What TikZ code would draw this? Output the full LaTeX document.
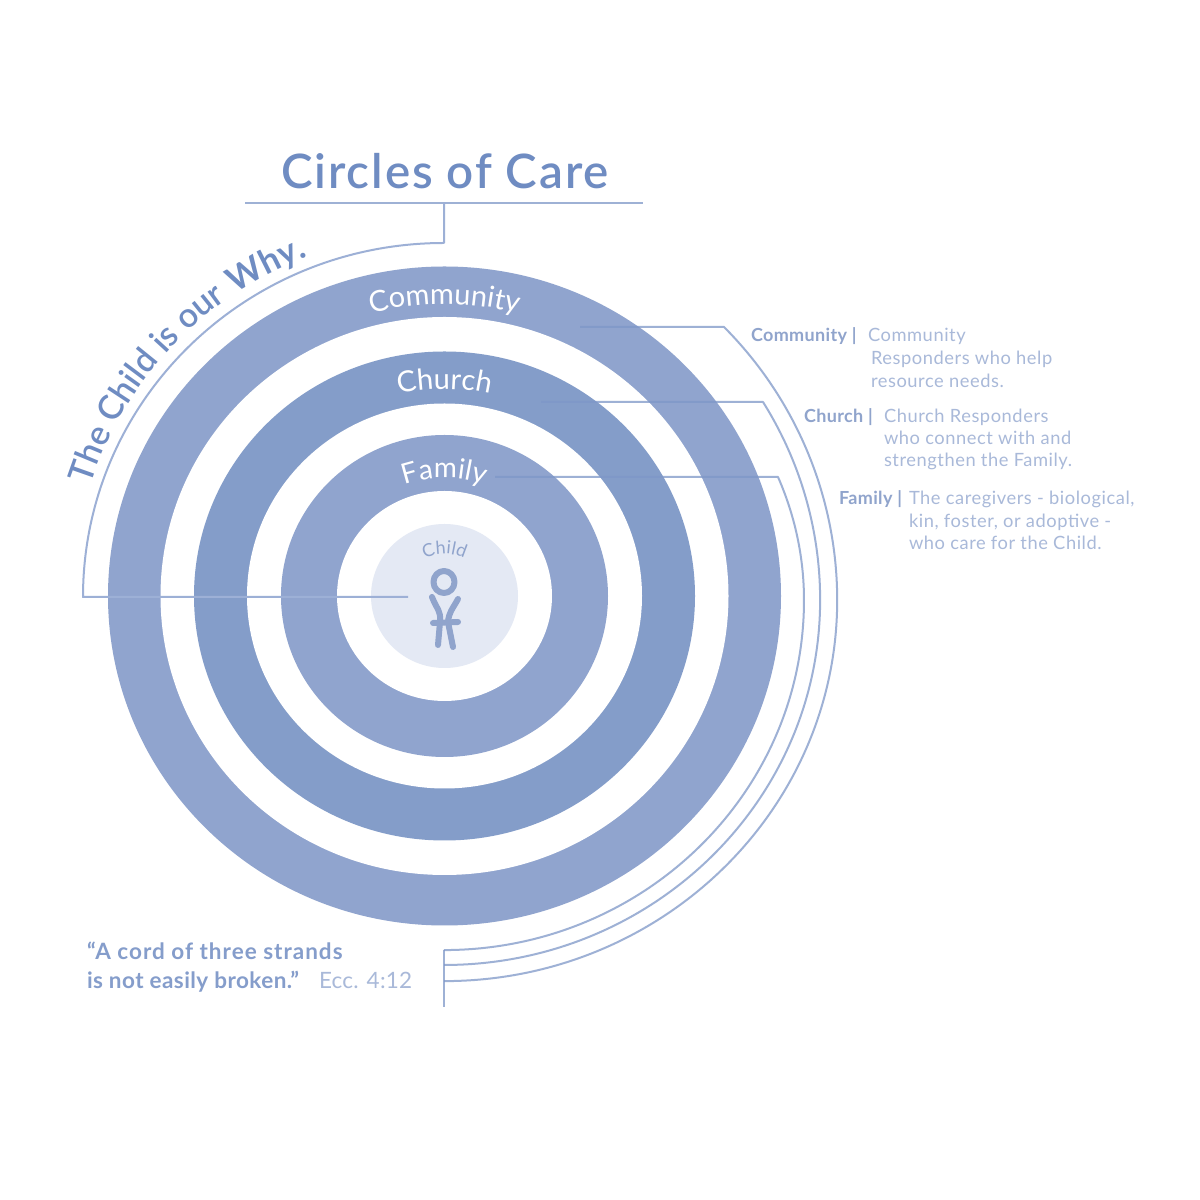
\documentclass[tikz,border=0pt]{standalone}
\usepackage{fontspec}
\setmainfont{Lato}
\newfontfamily\semif{Lato Semibold}
\newfontfamily\boldf{Lato Bold}
\newfontfamily\titlef[LetterSpace=4]{Lato Semibold}
\newfontfamily\keyf[LetterSpace=2]{Lato Bold}
\newfontfamily\quotef[LetterSpace=2]{Lato Bold}
\newfontfamily\quotefw[LetterSpace=4.5]{Lato Bold}
\newfontfamily\plainf[LetterSpace=3]{Lato}
\newfontfamily\eccf[LetterSpace=1]{Lato}
\newfontfamily\ringf{Lato}
\usetikzlibrary{decorations.text}
\definecolor{ringA}{HTML}{90A4CE}
\definecolor{ringB}{HTML}{849DC9}
\definecolor{disc}{HTML}{E4E9F4}
\definecolor{ink}{HTML}{7E97C8}
\definecolor{softwire}{HTML}{9DB0D6}
\definecolor{titleink}{HTML}{6F8CC2}
\definecolor{boldink}{HTML}{90A4CC}
\definecolor{softink}{HTML}{A9B9D9}
\newcommand{\fs}[1]{\fontsize{#1}{#1}\selectfont}
\tikzset{
  wire/.style={draw=ink,draw opacity=.75,line width=2pt,line join=round},
  txt/.style={anchor=base west,inner sep=0pt,outer sep=0pt},
  keyt/.style={txt,text=boldink,font=\keyf\fs{18}},
  desc/.style={txt,text=softink,font=\plainf\fs{18.3}},
  quote/.style={txt,text=titleink!85,font=\quotef\fs{22.5}},
  figure stroke/.style={draw=boldink,line width=6pt,line cap=round,line join=round},
}
\begin{document}
\begin{tikzpicture}[x=1pt,y=1pt]
\path[fill=white,use as bounding box] (0,0) rectangle (1200,1200);
\coordinate (c) at (444.5,604);
% rings
\fill[ringA] (c) ellipse [x radius=336.5,y radius=329.5];
\fill[white] (c) ellipse [x radius=284,y radius=279];
\fill[ringB] (c) ellipse [x radius=250.5,y radius=244.5];
\fill[white] (c) ellipse [x radius=197.5,y radius=192.5];
\fill[ringA] (c) ellipse [x radius=163.5,y radius=161];
\fill[white] (c) ellipse [x radius=107.5,y radius=105];
\fill[disc] (c) ellipse [x radius=73.5,y radius=72];
% title
\node[txt,anchor=base,text=titleink,font=\titlef\fs{47.5}] (title) at (445,1011) {Circles of Care};
\coordinate (ruleL) at (245,997);
\coordinate (ruleR) at (643,997);
\coordinate (ruleM) at (444,997);
\draw[wire] (ruleL) -- (ruleR);
% left connector
\coordinate (childEnd) at (408,603);
\coordinate (leftCorner) at (83,603);
\draw[wire,draw=softwire,draw opacity=1] (childEnd) -- (leftCorner) arc[start angle=180,end angle=90,x radius=361,y radius=354] -- (ruleM);
% right connectors
\coordinate (comS) at (580,873);
\coordinate (comK) at (724,873);
\coordinate (chuS) at (541,798);
\coordinate (chuK) at (763,798);
\coordinate (famS) at (495,723);
\coordinate (famK) at (778,723);
\draw[wire] (comS) -- (comK) arc[start angle=44.6,end angle=0,x radius=393,y radius=389] arc[start angle=0,end angle=-90,x radius=393,y radius=381];
\draw[wire] (chuS) -- (chuK) arc[start angle=32,end angle=0,x radius=376,y radius=373.6] arc[start angle=0,end angle=-90,x radius=376,y radius=365];
\draw[wire] (famS) -- (famK) arc[start angle=21.9,end angle=0,x radius=360,y radius=330] arc[start angle=0,end angle=-90,x radius=360,y radius=350];
\coordinate (stemT) at (444,250);
\coordinate (stemB) at (444,193);
\draw[wire] (stemT) -- (stemB);
% curved labels
\path[decorate,decoration={text along path,text align=center,text={|\ringf\fs{29}\color{white}|Community}}]
  (444.5,603)++(125:293) arc[start angle=125,end angle=55,radius=293];
\path[decorate,decoration={text along path,text align=center,text={|\ringf\fs{29}\color{white}|Church}}]
  (444.5,603)++(135:208) arc[start angle=135,end angle=45,radius=208];
\path[decorate,decoration={text along path,text align=center,text={|\ringf\fs{28}\color{white}|Family}}]
  (444.5,603)++(150:119) arc[start angle=150,end angle=30,radius=119];
\path[decorate,decoration={text along path,text align=center,text={|\ringf\fs{18}\color{boldink}|Child}}]
  (444.5,603)++(165:43) arc[start angle=165,end angle=15,radius=43];
% slogan
\path[decorate,decoration={text along path,text align=left,text={|\semif\fs{34}\color{titleink}|The Child is our || |\boldf\fs{34}\color{titleink}|Why.}}]
  (444,603)++(162.5:371) arc[start angle=162.5,end angle=100,x radius=371,y radius=364];
% figure
\draw[figure stroke] (444,618) ellipse [x radius=10.5,y radius=11];
\draw[figure stroke] (432,603) .. controls (437,590) and (441,590) .. (440,578) -- (438,555);
\draw[figure stroke] (458,601) .. controls (452,590) and (449,588) .. (448,578) -- (453,553);
\draw[figure stroke] (433,577) -- (458,578);
% key text
\node[keyt] (k1) at (751,858) {Community |};
\node[desc] (d1a) at (868,858) {Community};
\node[desc] (d1b) at (871,835) {Responders who help};
\node[desc] (d1c) at (871,812) {resource needs.};
\node[keyt] (k2) at (804,777) {Church |};
\node[desc] (d2a) at (884,777) {Church Responders};
\node[desc] (d2b) at (884,755) {who connect with and};
\node[desc] (d2c) at (884,733) {strengthen the Family.};
\node[keyt] (k3) at (839,695) {Family |};
\node[desc] (d3a) at (909,695) {The caregivers - biological,};
\node[desc] (d3b) at (909,672) {kin, foster, or adoptive -};
\node[desc] (d3c) at (909,650) {who care for the Child.};
% quote
\node[quote,font=\quotefw\fs{22.5}] (q1) at (87,240) {“A cord of three strands};
\node[quote] (q2) at (87,211) {is not easily broken.”};
\node[txt,text=softink,font=\eccf\fs{22.5}] (q3) at (319,211) {Ecc. 4:12};
\end{tikzpicture}
\end{document}
